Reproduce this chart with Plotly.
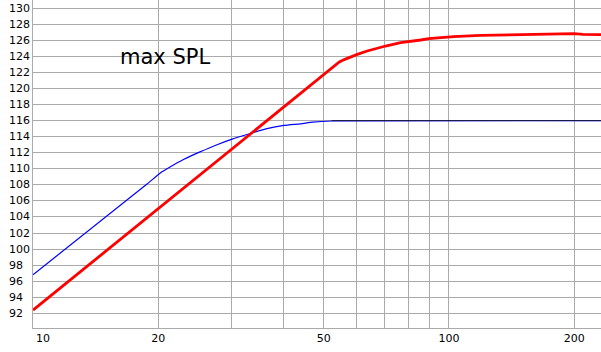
import plotly.graph_objects as go
import math

# Data
freq_red = [10, 54.5, 56, 58, 60.2, 63.6, 70.4, 76.5, 81, 85.5, 89.4, 95, 102.6, 119, 140, 166, 200, 210, 232]
spl_red = [92.4, 123.3, 123.6, 123.95, 124.25, 124.67, 125.29, 125.7, 125.92, 126.04, 126.2, 126.32, 126.45, 126.62, 126.7, 126.8, 126.82, 126.75, 126.72]

freq_blue = [10, 18.8, 20.2, 21.4, 23.0, 25.2, 27.7, 30.1, 33.3, 36.5, 40.1, 44.0, 47, 52.2, 232]
spl_blue = [96.8, 108.1, 109.45, 110.25, 111.15, 112.1, 113.0, 113.7, 114.4, 115.0, 115.4, 115.6, 115.8, 115.95, 116.0]

freq_black = [52.2, 232]
spl_black = [116.0, 116.0]

x_grid = [10, 20, 30, 40, 50, 60, 70, 80, 90, 100, 200]
x_labels = ["", "20", "", "", "50", "", "", "", "", "100", "200"]
y_ticks = list(range(92, 131, 2))
title_text = "max SPL"

fig = go.Figure()
fig.add_trace(go.Scatter(x=freq_blue, y=spl_blue, mode="lines",
                         line=dict(color="#0000ff", width=1.2, shape="spline", smoothing=0.5),
                         hoverinfo="skip"))
fig.add_trace(go.Scatter(x=freq_black, y=spl_black, mode="lines",
                         line=dict(color="#1a1a3a", width=1),
                         hoverinfo="skip"))
fig.add_trace(go.Scatter(x=freq_red, y=spl_red, mode="lines",
                         line=dict(color="#ff0000", width=2.8),
                         hoverinfo="skip"))

W, H = 601, 352
L, R, T, B = 33, 0, 0, 24
pw = W - L - R
ph = H - T - B

annotations = []
for v in y_ticks:
    annotations.append(dict(x=(7 - L) / pw, xref="paper", y=v, yref="y",
                            text=str(v), showarrow=False, xanchor="left", yanchor="middle",
                            font=dict(family="DejaVu Sans", size=11, color="black")))
# "10" label drawn to the right of the axis as in the reference
annotations.append(dict(x=math.log10(x_grid[0]), xref="x", y=0, yref="paper",
                        text=str(x_grid[0]), showarrow=False, xanchor="center", yanchor="top",
                        xshift=10, yshift=-2,
                        font=dict(family="DejaVu Sans", size=11, color="black")))
annotations.append(dict(x=(118 - L) / pw, xref="paper", y=1 - (57 - T) / ph, yref="paper",
                        text=title_text, showarrow=False, xanchor="left", yanchor="middle",
                        font=dict(family="DejaVu Sans", size=21, color="black")))

fig.update_layout(
    width=W, height=H,
    margin=dict(l=L, r=R, t=T, b=B, pad=0),
    paper_bgcolor="white", plot_bgcolor="white",
    showlegend=False,
    annotations=annotations,
    xaxis=dict(type="log", range=[1, 2.3655], tickmode="array", tickvals=x_grid, ticktext=x_labels,
               showgrid=True, gridcolor="#aaaaaa", gridwidth=1, zeroline=False,
               showline=True, linecolor="#aaaaaa", linewidth=1, ticks="",
               tickfont=dict(family="DejaVu Sans", size=11, color="black")),
    yaxis=dict(range=[90.17, 131.02], tickmode="array", tickvals=y_ticks, showticklabels=False,
               showgrid=True, gridcolor="#aaaaaa", gridwidth=1, zeroline=False,
               showline=True, linecolor="#aaaaaa", linewidth=1, ticks=""),
)

fig.write_html("out.html")
